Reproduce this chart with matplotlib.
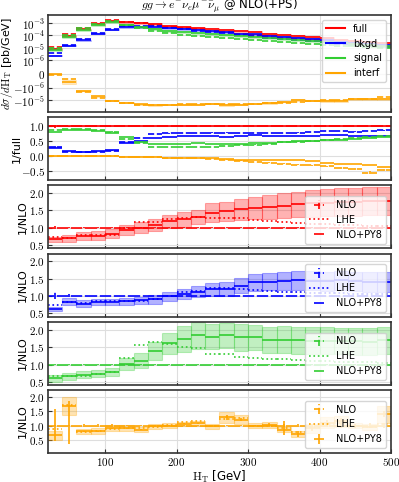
import matplotlib
matplotlib.use("Agg")
import matplotlib.pyplot as plt
import numpy as np
from matplotlib.colors import to_rgba
from matplotlib.lines import Line2D
from matplotlib.ticker import FuncFormatter, NullLocator

plt.rcParams["mathtext.fontset"] = "cm"
plt.rcParams["font.family"] = "DejaVu Sans"

# 20 GeV bins in H_T
edges = np.arange(20, 520, 20)
centers = 0.5 * (edges[:-1] + edges[1:])
half = 0.5 * np.diff(edges)

# ---- top panel: NLO cross sections [pb/GeV]
full_nlo = np.array([1.2e-5, 1.3e-4, 4.0e-4, 1.05e-3, 1.8e-3, 1.2e-3, 9.5e-4, 7.5e-4,
                     5.0e-4, 3.9e-4, 3.0e-4, 2.25e-4, 1.8e-4, 1.4e-4, 1.1e-4, 8.5e-5,
                     6.7e-5, 5.3e-5, 4.1e-5, 3.3e-5, 2.6e-5, 2.1e-5, 1.65e-5, 1.3e-5])
bkgd_frac = np.array([0.30, 0.14, 0.13, 0.15, 0.19, 0.48, 0.60, 0.74, 0.76, 0.78, 0.78, 0.79,
                      0.79, 0.78, 0.78, 0.78, 0.78, 0.79, 0.80, 0.84, 0.83, 0.82, 0.85, 0.86])
signal_frac = np.array([0.87, 0.90, 0.91, 0.87, 0.82, 0.57, 0.44, 0.32, 0.30, 0.30, 0.31, 0.32,
                        0.33, 0.36, 0.39, 0.42, 0.46, 0.49, 0.52, 0.55, 0.58, 0.61, 0.64, 0.67])
interf_nlo = np.array([-5e-8, -3.5e-7, -2.2e-6, -6.5e-6, -1.3e-5, -1.9e-5, -2.6e-5, -2.8e-5,
                       -2.6e-5, -2.3e-5, -2.2e-5, -2.1e-5, -2.0e-5, -2.0e-5, -2.0e-5, -1.8e-5,
                       -1.65e-5, -1.5e-5, -1.25e-5, -1.1e-5, -1.0e-5, -9e-6, -9e-6, -6e-6])

# ---- ratios to NLO
red_py8 = np.array([0.66, 0.69, 0.75, 0.77, 0.82, 0.93, 1.00, 1.07, 1.19, 1.24, 1.31, 1.43,
                    1.47, 1.53, 1.56, 1.60, 1.63, 1.67, 1.70, 1.72, 1.74, 1.75, 1.76, 1.76])
red_lhe = np.array([0.74, 0.70, 0.78, 0.78, 0.80, 0.98, 1.17, 1.15, 1.25, 1.28, 1.30, 1.28,
                    1.29, 1.27, 1.23, 1.20, 1.16, 1.13, 1.12, 1.10, 1.09, 1.08, 1.06, 1.05])
red_hw = np.array([0.07, 0.11, 0.12, 0.13, 0.13, 0.14, 0.16, 0.17, 0.19, 0.21, 0.20, 0.27,
                   0.28, 0.30, 0.32, 0.34, 0.36, 0.37, 0.38, 0.39, 0.40, 0.40, 0.40, 0.40])
red_nlo_err = np.array([0.05, 0.01, 0.005, 0.005, 0.005, 0.005, 0.005, 0.005, 0.005, 0.005, 0.005, 0.005,
                        0.005, 0.005, 0.005, 0.005, 0.005, 0.005, 0.005, 0.005, 0.005, 0.005, 0.005, 0.005])

blue_py8 = np.array([0.61, 0.83, 0.78, 0.83, 0.83, 0.85, 0.87, 0.90, 0.99, 1.05, 1.12, 1.19,
                     1.21, 1.29, 1.39, 1.41, 1.42, 1.45, 1.44, 1.42, 1.45, 1.42, 1.40, 1.40])
blue_lhe = np.array([0.74, 0.83, 0.80, 0.84, 0.85, 0.86, 0.86, 0.90, 1.00, 1.12, 1.15, 1.22,
                     1.22, 1.19, 1.16, 1.13, 1.11, 1.10, 1.09, 1.08, 1.07, 1.06, 1.05, 1.05])
blue_hw = np.array([0.06, 0.10, 0.10, 0.08, 0.09, 0.10, 0.11, 0.12, 0.13, 0.15, 0.16, 0.18,
                    0.20, 0.22, 0.24, 0.25, 0.26, 0.27, 0.27, 0.28, 0.28, 0.28, 0.28, 0.28])
blue_nlo_err = np.array([0.10, 0.04, 0.01, 0.01, 0.01, 0.005, 0.005, 0.005, 0.005, 0.005, 0.005, 0.005,
                         0.005, 0.005, 0.005, 0.005, 0.005, 0.005, 0.005, 0.005, 0.005, 0.005, 0.005, 0.005])

green_py8 = np.array([0.61, 0.67, 0.71, 0.74, 0.78, 1.02, 1.11, 1.38, 1.61, 1.73, 1.83, 1.80,
                      1.83, 1.78, 1.78, 1.71, 1.71, 1.69, 1.68, 1.68, 1.67, 1.66, 1.65, 1.69])
green_lhe = np.array([0.66, 0.68, 0.68, 0.72, 0.78, 1.18, 1.55, 1.64, 1.59, 1.50, 1.46, 1.31,
                      1.30, 1.22, 1.20, 1.16, 1.16, 1.12, 1.10, 1.09, 1.08, 1.07, 1.06, 1.05])
green_hw = np.array([0.10, 0.10, 0.10, 0.10, 0.11, 0.17, 0.22, 0.25, 0.30, 0.36, 0.38, 0.36,
                     0.37, 0.38, 0.36, 0.37, 0.38, 0.38, 0.38, 0.38, 0.38, 0.38, 0.38, 0.38])
green_nlo_err = np.array([0.01, 0.005, 0.005, 0.005, 0.005, 0.005, 0.005, 0.005, 0.005, 0.005, 0.005, 0.005,
                          0.005, 0.005, 0.005, 0.005, 0.005, 0.005, 0.005, 0.005, 0.005, 0.005, 0.005, 0.005])

orange_py8 = np.array([0.65, 1.69, 0.79, 0.80, 0.91, 0.91, 0.86, 0.97, 1.00, 1.06, 1.08, 0.97,
                       1.29, 1.21, 1.00, 1.03, 0.86, 0.71, 0.90, 1.10, 1.15, 1.00, 0.95, 1.40])
orange_lhe = np.array([0.89, 1.72, 0.77, 0.82, 0.88, 0.90, 0.90, 0.96, 1.02, 1.14, 1.15, 1.00,
                       1.22, 1.25, 1.00, 1.00, 0.90, 0.78, 0.95, 1.05, 1.10, 1.00, 0.95, 1.05])
orange_hw = np.array([0.15, 0.33, 0.10, 0.10, 0.10, 0.10, 0.10, 0.08, 0.08, 0.08, 0.08, 0.08,
                      0.20, 0.15, 0.10, 0.10, 0.10, 0.10, 0.15, 0.20, 0.20, 0.10, 0.10, 0.30])
orange_nlo_err = np.array([0.03, 0.03, 0.06, 0.04, 0.05, 0.02, 0.02, 0.02, 0.02, 0.02, 0.02, 0.02,
                           0.03, 0.03, 0.03, 0.04, 0.05, 0.05, 0.06, 0.06, 0.07, 0.07, 0.08, 0.08])
orange_err_lo = np.array([0.19, 1.33, 0.03, 0.02, 0.02, 0.02, 0.02, 0.02, 0.02, 0.02, 0.02, 0.02,
                          0.08, 0.05, 0.03, 0.05, 0.20, 0.10, 0.10, 0.10, 0.10, 0.05, 0.05, 0.10])
orange_err_hi = np.array([0.93, 0.17, 0.03, 0.02, 0.02, 0.02, 0.02, 0.02, 0.02, 0.02, 0.02, 0.02,
                          0.08, 0.05, 0.03, 0.05, 0.30, 0.10, 0.10, 0.10, 0.10, 0.05, 0.05, 0.10])

names = ["full", "bkgd", "signal", "interf"]
colors = ["red", "blue", "limegreen", "orange"]

nlo = [full_nlo, full_nlo * bkgd_frac, full_nlo * signal_frac, interf_nlo]
py8_ratio = [red_py8, blue_py8, green_py8, orange_py8]
lhe_ratio = [red_lhe, blue_lhe, green_lhe, orange_lhe]
band_hw = [red_hw, blue_hw, green_hw, orange_hw]
nlo_err = [red_nlo_err, blue_nlo_err, green_nlo_err, orange_nlo_err]
py8_err = [None, None, None, np.vstack([orange_err_lo, orange_err_hi])]


def num_fmt(fmt):
    return FuncFormatter(lambda v, pos: "$" + format(v, fmt) + "$")


def style(ax):
    ax.grid(True, color="#dedede", lw=0.8)
    ax.set_axisbelow(True)
    ax.tick_params(direction="in", length=3, width=0.8, pad=2, labelsize=8, color="#333333")
    for s in ax.spines.values():
        s.set_color("#333333")
        s.set_linewidth(1.2)


def dashed(eb):
    for c in eb[2]:
        c.set_linestyle("--")
    return eb


fig, axes = plt.subplots(6, 1, figsize=(3.99, 4.82), dpi=100, sharex=True,
                         gridspec_kw=dict(height_ratios=[1.54, 1, 1, 1, 1, 1], hspace=0.075))
fig.subplots_adjust(left=0.12, right=0.98, top=0.969, bottom=0.06)

# ---- top panel
ax = axes[0]
handles = []
for i, c in enumerate(colors):
    lo = nlo[i] * (py8_ratio[i] - band_hw[i])
    hi = nlo[i] * (py8_ratio[i] + band_hw[i])
    ax.bar(centers, np.abs(hi - lo), bottom=np.minimum(lo, hi), width=20,
           color=to_rgba(c, 0.25), edgecolor=to_rgba(c, 0.25), lw=0.6)
    dashed(ax.errorbar(centers, nlo[i], xerr=half, fmt="none", ecolor=c, elinewidth=1.2))
    ax.errorbar(centers, nlo[i] * py8_ratio[i], xerr=half, fmt="none", ecolor=c, elinewidth=1.2)
    handles.append(Line2D([], [], color=c, lw=1.5, label=names[i]))
ax.set_yscale("symlog", linthresh=1e-6, linscale=1)
ax.set_ylim(-9.5e-5, 4.5e-3)
ax.set_yticks([-1e-5, -1e-6, 0, 1e-6, 1e-5, 1e-4, 1e-3])
ax.set_yticklabels([r"$-10^{-5}$", r"$-10^{-6}$", r"$0$", r"$10^{-6}$", r"$10^{-5}$",
                    r"$10^{-4}$", r"$10^{-3}$"])
ax.yaxis.set_minor_locator(NullLocator())
ax.set_ylabel(r"$d\sigma/d\mathrm{H_T}$ [pb/GeV]", fontsize=8)
ax.yaxis.set_label_coords(-0.095, 0.5)
ax.set_title(r"$gg \rightarrow e^{-}\nu_e\mu^{-}\bar{\nu}_\mu$ @ NLO(+PS)", fontsize=8.5, pad=0.5)
ax.legend(handles=handles, loc="upper right", fontsize=7, framealpha=0.8)
style(ax)

# ---- fraction of full
ax = axes[1]
full_py8 = full_nlo * red_py8
for i, c in enumerate(colors):
    frac_nlo = nlo[i] / full_nlo
    frac_py8 = nlo[i] * py8_ratio[i] / full_py8
    dashed(ax.errorbar(centers, frac_nlo, xerr=half, yerr=nlo_err[i] * np.abs(frac_nlo),
                       fmt="none", ecolor=c, elinewidth=1.2))
    yerr = None if py8_err[i] is None else py8_err[i] * np.abs(frac_py8) * 0.2
    ax.errorbar(centers, frac_py8, xerr=half, yerr=yerr, fmt="none", ecolor=c, elinewidth=1.2)
ax.set_ylim(-0.8, 1.3)
ax.set_yticks([-0.5, 0.0, 0.5, 1.0])
ax.yaxis.set_major_formatter(num_fmt(".1f"))
ax.set_ylabel("1/full", fontsize=8)
ax.yaxis.set_label_coords(-0.075, 0.5)
style(ax)

# ---- ratio panels
ylims = [(0.4, 2.22), (0.4, 2.22), (0.42, 2.22), (0.03, 2.25)]
for i, c in enumerate(colors):
    ax = axes[i + 2]
    ax.bar(centers, 2 * band_hw[i], bottom=py8_ratio[i] - band_hw[i], width=20,
           color=to_rgba(c, 0.3), edgecolor=to_rgba(c, 0.3), lw=0.8)
    h_nlo = dashed(ax.errorbar(centers, np.ones(len(centers)), xerr=half, yerr=nlo_err[i],
                               fmt="none", ecolor=c, elinewidth=1.2, label="NLO"))
    h_lhe = ax.hlines(lhe_ratio[i], edges[:-1], edges[1:], colors=c, linestyles=":",
                      lw=1.2, label="LHE")
    h_py8 = ax.errorbar(centers, py8_ratio[i], xerr=half, yerr=py8_err[i], fmt="none",
                        ecolor=c, elinewidth=1.2, label="NLO+PY8")
    ax.set_ylim(*ylims[i])
    ax.set_yticks([0.5, 1.0, 1.5, 2.0])
    ax.yaxis.set_major_formatter(num_fmt(".1f"))
    ax.set_ylabel("1/NLO", fontsize=8)
    ax.yaxis.set_label_coords(-0.058, 0.5)
    ax.legend(handles=[h_nlo, h_lhe, h_py8], loc="lower right", fontsize=7, framealpha=0.8)
    style(ax)

axes[-1].set_xlim(20, 500)
axes[-1].set_xticks([100, 200, 300, 400, 500])
axes[-1].xaxis.set_major_formatter(num_fmt(".0f"))
axes[-1].set_xlabel(r"$\mathrm{H_T}$ [GeV]", fontsize=8.5, labelpad=1)

fig.savefig("out.png", dpi=100)
